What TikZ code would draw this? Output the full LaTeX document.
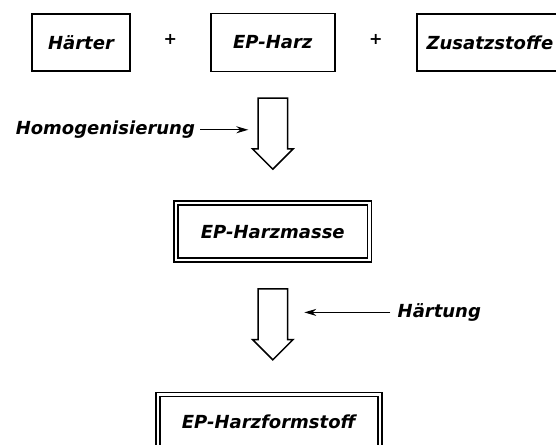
\documentclass[tikz,border=0pt]{standalone}
\usepackage{fontspec}
\newfontfamily\schrift{DejaVu Sans}
\usepackage{tikz}
\usetikzlibrary{positioning, arrows.meta, shapes.arrows}

\begin{document}
\begin{tikzpicture}[node distance=1cm, auto]
        \tikzstyle{lbl} = [inner sep=0pt, font=\schrift\bfseries\itshape\fontsize{9}{11}\selectfont]
        \tikzstyle{plus} = [inner sep=0pt, font=\schrift\bfseries\fontsize{8}{9}\selectfont]
        \tikzstyle{box} = [rectangle, draw, line width=0.9pt, lbl]
        \tikzstyle{dbox} = [rectangle, draw, line width=0.9pt, double, double distance=1.1pt, lbl]
        \tikzstyle{block} = [single arrow, draw, line width=0.75pt, shape border rotate=270, inner sep=7pt, minimum height=35.5pt, minimum width=19.5pt, single arrow head extend=2.75pt]
        \tikzstyle{arrow} = [line width=0.6pt, -{Stealth[length=6pt, width=3.5pt]}]

        \clip (0,0) rectangle (278pt,-222pt);

        \node [box, minimum width=49pt, minimum height=28.5pt] (haerter) at (40.5pt,-21.25pt) {Härter};
        \node [box, minimum width=62pt, minimum height=29pt, right=39.5pt of haerter] (harz) {EP-Harz};
        \node [box, minimum width=80pt, minimum height=28.5pt, right=40pt of harz, text width=70pt, align=left] (zusatz) {Zusatzstoffe};
        \path (haerter.east) -- node [plus, yshift=-1pt] (plusA) {+} (harz.west);
        \path (harz.west -| harz.east) -- node [plus, yshift=-1pt] (plusB) {+} (zusatz.west);

        \node [block, below=12.5pt of harz] (pfeilA) {};
        \node [dbox, minimum width=96.7pt, minimum height=28.7pt, below=15.9pt of pfeilA] (masse) {EP-Harzmasse};
        \node [block, below=13.4pt of masse] (pfeilB) {};
        \node [dbox, minimum width=111.2pt, minimum height=27.2pt, below=16.4pt of pfeilB, xshift=-2pt] (formstoff) {EP-Harzformstoff};

        \node [lbl, left=31pt of pfeilA, yshift=-1.75pt] (homog) {Homogenisierung};
        \node [lbl, right=54.5pt of pfeilB, yshift=2.25pt] (haertung) {Härtung};

        \draw [arrow, shorten <=2.5pt, shorten >=4.5pt] (homog.east) -- (homog.east -| pfeilA.west);
        \draw [arrow, shorten <=3.5pt, shorten >=8pt] (haertung.west) -- (haertung.west -| pfeilB.east);
    \end{tikzpicture}
\end{document}
